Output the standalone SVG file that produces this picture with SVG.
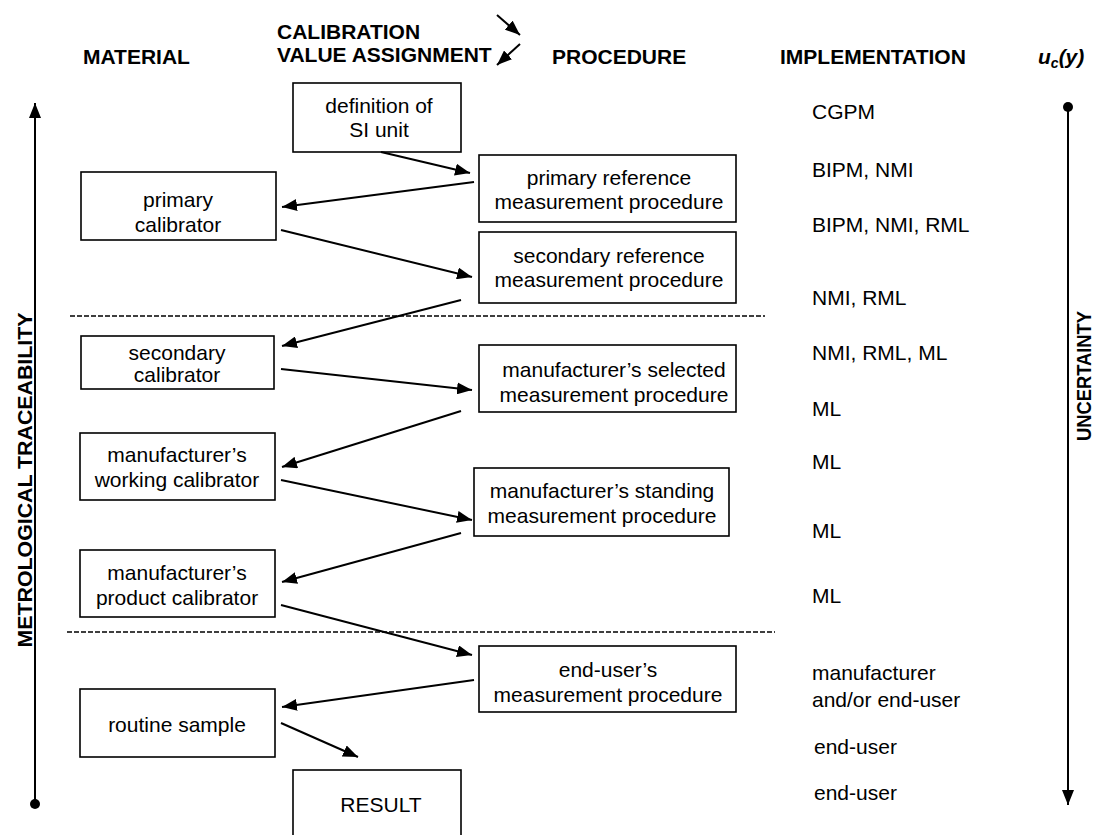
<svg xmlns="http://www.w3.org/2000/svg" width="1093" height="835" viewBox="0 0 1093 835">
<style>
  .hdr{font-family:"Liberation Sans",Arial,sans-serif;font-weight:bold;font-size:21px;fill:#000}
  .txt{font-family:"Liberation Sans",Arial,sans-serif;font-size:21px;fill:#000}
  .ctr{text-anchor:middle}
  .box{fill:#fff;stroke:#000;stroke-width:1.6}
  .con{stroke:#000;stroke-width:2;fill:none;marker-end:url(#ah)}
  .dash{stroke:#000;stroke-width:1.5;stroke-dasharray:5 2;fill:none}
  .axis{stroke:#000;stroke-width:2;fill:none}
</style>
<defs>
  <marker id="ah" markerUnits="userSpaceOnUse" markerWidth="16" markerHeight="12" refX="15" refY="6" orient="auto">
    <path d="M0,0 L15,6 L0,12 z" fill="#000"/>
  </marker>
</defs>
<rect width="1093" height="835" fill="#fff"/>

<g id="headers">
  <text class="hdr" x="83" y="64">MATERIAL</text>
  <text class="hdr" x="277" y="39">CALIBRATION</text>
  <text class="hdr" x="277" y="62">VALUE ASSIGNMENT</text>
  <text class="hdr" x="552" y="64">PROCEDURE</text>
  <text class="hdr" x="780" y="64">IMPLEMENTATION</text>
  <text class="hdr" x="1038" y="64" font-style="italic">u<tspan font-size="14" dy="4">c</tspan><tspan dy="-4">(y)</tspan></text>
</g>

<g id="legend-arrows">
  <line class="con" x1="497" y1="15" x2="520" y2="35"/>
  <line class="con" x1="520" y1="44" x2="497" y2="65"/>
</g>

<g id="axes">
  <line class="axis" x1="35" y1="804" x2="35" y2="103" marker-end="url(#ah)"/>
  <circle cx="35" cy="804" r="5" fill="#000"/>
  <text class="hdr" font-size="22" transform="translate(32,480) rotate(-90)" text-anchor="middle" textLength="335" lengthAdjust="spacingAndGlyphs">METROLOGICAL TRACEABILITY</text>
  <line class="axis" x1="1068" y1="107" x2="1068" y2="805" marker-end="url(#ah)"/>
  <circle cx="1068" cy="107" r="5" fill="#000"/>
  <text class="hdr" font-size="22" transform="translate(1091,376) rotate(-90)" text-anchor="middle" textLength="130" lengthAdjust="spacingAndGlyphs">UNCERTAINTY</text>
</g>

<g id="dividers">
  <line class="dash" x1="70" y1="316" x2="765" y2="316"/>
  <line class="dash" x1="67" y1="632" x2="775" y2="632"/>
</g>

<g id="node-si">
  <rect class="box" x="293" y="83" width="168" height="69"/>
  <text class="txt ctr" x="379" y="113">definition of</text>
  <text class="txt ctr" x="379" y="137">SI unit</text>
</g>
<g id="node-primary-ref">
  <rect class="box" x="479" y="155" width="257" height="67"/>
  <text class="txt ctr" x="609" y="185">primary reference</text>
  <text class="txt ctr" x="609" y="209">measurement procedure</text>
</g>
<g id="node-primary-cal">
  <rect class="box" x="81" y="172" width="195" height="68"/>
  <text class="txt ctr" x="178" y="207">primary</text>
  <text class="txt ctr" x="178" y="232">calibrator</text>
</g>
<g id="node-secondary-ref">
  <rect class="box" x="479" y="232" width="257" height="71"/>
  <text class="txt ctr" x="609" y="263">secondary reference</text>
  <text class="txt ctr" x="609" y="287">measurement procedure</text>
</g>
<g id="node-secondary-cal">
  <rect class="box" x="81" y="336" width="193" height="53"/>
  <text class="txt ctr" x="177" y="360">secondary</text>
  <text class="txt ctr" x="177" y="382">calibrator</text>
</g>
<g id="node-selected">
  <rect class="box" x="479" y="345" width="257" height="67"/>
  <text class="txt ctr" x="614" y="377">manufacturer’s selected</text>
  <text class="txt ctr" x="614" y="402">measurement procedure</text>
</g>
<g id="node-working">
  <rect class="box" x="80" y="433" width="195" height="67"/>
  <text class="txt ctr" x="177" y="462">manufacturer’s</text>
  <text class="txt ctr" x="177" y="487">working calibrator</text>
</g>
<g id="node-standing">
  <rect class="box" x="474" y="468" width="255" height="68"/>
  <text class="txt ctr" x="602" y="498">manufacturer’s standing</text>
  <text class="txt ctr" x="602" y="523">measurement procedure</text>
</g>
<g id="node-product">
  <rect class="box" x="80" y="550" width="195" height="67"/>
  <text class="txt ctr" x="177" y="580">manufacturer’s</text>
  <text class="txt ctr" x="177" y="605">product calibrator</text>
</g>
<g id="node-enduser">
  <rect class="box" x="479" y="646" width="257" height="66"/>
  <text class="txt ctr" x="608" y="677">end-user’s</text>
  <text class="txt ctr" x="608" y="702">measurement procedure</text>
</g>
<g id="node-routine">
  <rect class="box" x="80" y="689" width="195" height="68"/>
  <text class="txt ctr" x="177" y="732">routine sample</text>
</g>
<g id="node-result">
  <rect class="box" x="293" y="770" width="168" height="80"/>
  <text class="txt ctr" x="381" y="812">RESULT</text>
</g>

<g id="implementation">
  <text class="txt" x="812" y="119">CGPM</text>
  <text class="txt" x="812" y="177">BIPM, NMI</text>
  <text class="txt" x="812" y="232">BIPM, NMI, RML</text>
  <text class="txt" x="812" y="305">NMI, RML</text>
  <text class="txt" x="812" y="360">NMI, RML, ML</text>
  <text class="txt" x="812" y="416">ML</text>
  <text class="txt" x="812" y="469">ML</text>
  <text class="txt" x="812" y="538">ML</text>
  <text class="txt" x="812" y="603">ML</text>
  <text class="txt" x="812" y="680">manufacturer</text>
  <text class="txt" x="812" y="707">and/or end-user</text>
  <text class="txt" x="814" y="754">end-user</text>
  <text class="txt" x="814" y="800">end-user</text>
</g>

<g id="connectors">
  <line class="con" x1="381" y1="152" x2="470" y2="173"/>
  <line class="con" x1="474" y1="182" x2="282" y2="207"/>
  <line class="con" x1="281" y1="230" x2="472" y2="277"/>
  <line class="con" x1="461" y1="300" x2="282" y2="346"/>
  <line class="con" x1="281" y1="369" x2="472" y2="390"/>
  <line class="con" x1="461" y1="411" x2="282" y2="467"/>
  <line class="con" x1="281" y1="480" x2="472" y2="520"/>
  <line class="con" x1="461" y1="533" x2="282" y2="582"/>
  <line class="con" x1="281" y1="605" x2="472" y2="655"/>
  <line class="con" x1="474" y1="680" x2="282" y2="707"/>
  <line class="con" x1="281" y1="723" x2="358" y2="757"/>
</g>
</svg>
